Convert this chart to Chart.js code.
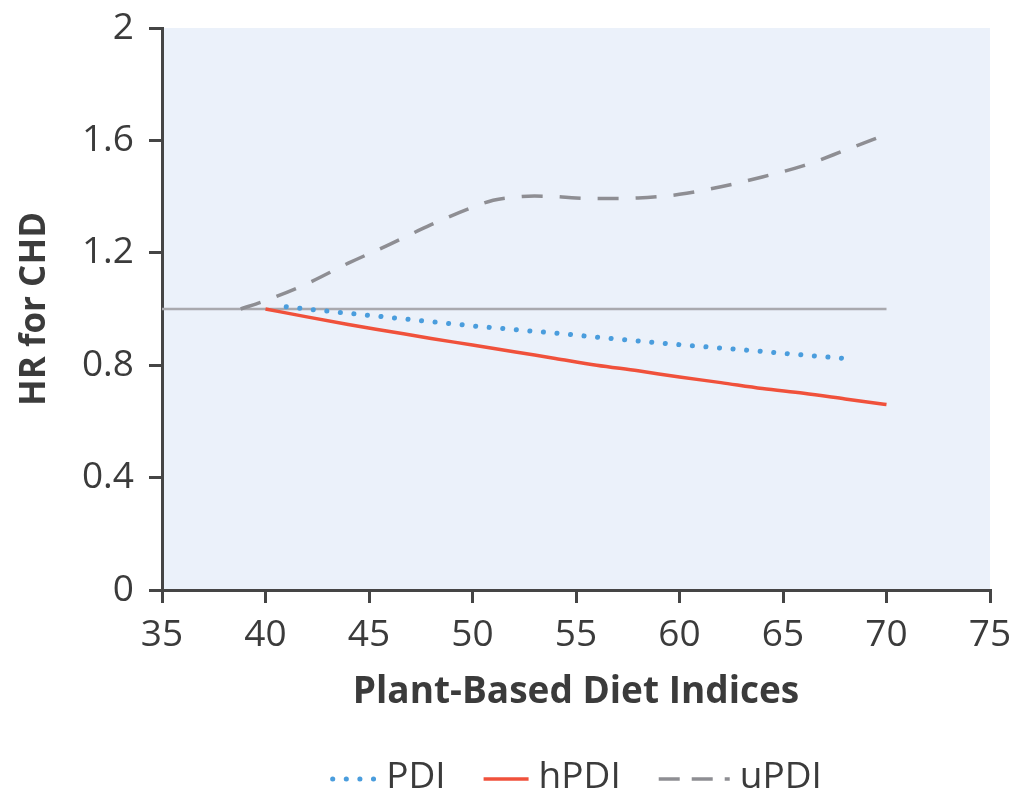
<!DOCTYPE html>
<html>
<head>
<meta charset="utf-8">
<script src="https://cdn.jsdelivr.net/npm/chart.js@4.4.1/dist/chart.umd.min.js"></script>
<style>
  html, body { margin: 0; padding: 0; background: #fff; }
  #wrap { width: 1018px; height: 799px; }
</style>
</head>
<body>
<div id="wrap"><canvas id="grafica" width="1018" height="799"></canvas></div>
<script>
// tick labels
const xTicks = [35, 40, 45, 50, 55, 60, 65, 70, 75];
const yTickLabels = ['0', '0.4', '0.8', '1.2', '1.6', '2'];

// series (x = index score, y = HR)
const pdiX = [41, 42, 44, 46, 48, 50, 52, 54, 56, 58, 60, 62, 64, 66, 68];
const pdiY = [1.008, 1.0, 0.985, 0.97, 0.955, 0.94, 0.927, 0.914, 0.9, 0.886, 0.873, 0.861, 0.849, 0.836, 0.824];

const hpdiX = [40, 42, 44, 46, 48, 50, 52, 54, 56, 58, 60, 62, 64, 66, 68, 70];
const hpdiY = [1.0, 0.972, 0.945, 0.92, 0.895, 0.872, 0.848, 0.824, 0.8, 0.78, 0.758, 0.738, 0.717, 0.7, 0.68, 0.66];

const updiX = [38.8, 40, 42, 44, 46, 48, 50, 51, 52, 53, 54, 55, 56, 57, 58, 59, 60, 62, 64, 66, 68, 70];
const updiY = [1.0, 1.03, 1.09, 1.163, 1.23, 1.3, 1.362, 1.387, 1.398, 1.402, 1.4, 1.395, 1.393, 1.393, 1.395, 1.4, 1.408, 1.435, 1.47, 1.51, 1.565, 1.622];

const refX = [35, 70];
const refY = [1, 1];

const seriesNames = ['PDI', 'hPDI', 'uPDI'];

const toPoints = (xs, ys) => xs.map((x, i) => ({ x, y: ys[i] }));

const TXT = '#3b3b3b';
const AXIS = '#454545';

// fondo del area de la grafica
const fondoPlugin = {
  id: 'fondo',
  beforeDraw(chart) {
    const { ctx, chartArea: a } = chart;
    ctx.save();
    ctx.fillStyle = '#ebf1fa';
    ctx.fillRect(a.left, a.top, a.right - a.left, a.bottom - a.top);
    ctx.restore();
  }
};

// leyenda dibujada a mano (muestras de linea punteada / discontinua)
const leyendaPlugin = {
  id: 'leyenda',
  afterDraw(chart) {
    const { ctx, chartArea: a } = chart;
    const items = chart.data.datasets.filter(d => seriesNames.includes(d.label));
    ctx.save();
    ctx.font = '37px "Open Sans"';
    ctx.textBaseline = 'middle';
    const gap = 10, between = 38;
    const widths = items.map(d => d.legendW + gap + ctx.measureText(d.label).width);
    const total = widths.reduce((s, w) => s + w, 0) + between * (items.length - 1);
    let x = (a.left + a.right) / 2 - total / 2;
    const yLine = 779, yText = 777;
    items.forEach((d, i) => {
      ctx.beginPath();
      ctx.strokeStyle = d.borderColor;
      ctx.lineWidth = d.borderWidth;
      ctx.lineCap = d.borderCapStyle || 'butt';
      ctx.setLineDash(d.legendDash || d.borderDash || []);
      const off = d.borderCapStyle === 'round' ? d.borderWidth / 2 : 0;
      ctx.moveTo(x + off, yLine);
      ctx.lineTo(x + d.legendW - off, yLine);
      ctx.stroke();
      ctx.setLineDash([]);
      ctx.fillStyle = TXT;
      ctx.fillText(d.label, x + d.legendW + gap, yText);
      x += widths[i] + between;
    });
    ctx.restore();
  }
};

const ctx = document.getElementById('grafica').getContext('2d');

new Chart(ctx, {
  type: 'line',
  data: {
    datasets: [
      {
        label: 'PDI',
        data: toPoints(pdiX, pdiY),
        borderColor: '#4a9ddd',
        borderWidth: 5,
        borderCapStyle: 'round',
        borderDash: [0.1, 13.5],
        legendW: 46,
        pointRadius: 0,
        tension: 0.4,
        cubicInterpolationMode: 'monotone'
      },
      {
        label: 'hPDI',
        data: toPoints(hpdiX, hpdiY),
        borderColor: '#f0513b',
        borderWidth: 3.5,
        legendW: 45,
        pointRadius: 0,
        tension: 0.4,
        cubicInterpolationMode: 'monotone'
      },
      {
        label: 'uPDI',
        data: toPoints(updiX, updiY),
        borderColor: '#8e8e93',
        borderWidth: 3.5,
        borderDash: [21, 17],
        legendDash: [21, 12],
        legendW: 71,
        pointRadius: 0,
        tension: 0.4,
        cubicInterpolationMode: 'monotone'
      },
      {
        label: 'ref',
        data: toPoints(refX, refY),
        borderColor: '#a9a9ae',
        borderWidth: 2.5,
        pointRadius: 0
      }
    ]
  },
  options: {
    responsive: false,
    animation: false,
    events: [],
    layout: { padding: { top: 28, right: 28, left: 0, bottom: 0 } },
    plugins: {
      legend: { display: false },
      tooltip: { enabled: false }
    },
    scales: {
      x: {
        type: 'linear',
        min: xTicks[0],
        max: xTicks[xTicks.length - 1],
        afterBuildTicks: s => { s.ticks = xTicks.map(v => ({ value: v })); },
        afterFit: s => { s.height = 209; s.paddingLeft = 0; s.paddingRight = 0; },
        ticks: {
          color: TXT,
          font: { family: 'Open Sans', size: 37 },
          padding: 10,
          maxRotation: 0
        },
        grid: { drawOnChartArea: false, drawTicks: true, tickLength: 13, color: AXIS, lineWidth: 3 },
        border: { color: AXIS, width: 3 },
        title: {
          display: true,
          text: 'Plant-Based Diet Indices',
          color: TXT,
          font: { family: 'Open Sans', size: 37, weight: 'bold' },
          padding: { top: 0, bottom: 84 }
        }
      },
      y: {
        min: 0,
        max: 2,
        afterBuildTicks: s => { s.ticks = yTickLabels.map(t => ({ value: parseFloat(t) })); },
        afterFit: s => { s.width = 162; s.paddingTop = 0; s.paddingBottom = 0; },
        ticks: {
          color: TXT,
          font: { family: 'Open Sans', size: 37 },
          padding: 15,
          callback: (v, i) => yTickLabels[i]
        },
        grid: { drawOnChartArea: false, drawTicks: true, tickLength: 13, color: AXIS, lineWidth: 3 },
        border: { color: AXIS, width: 3 },
        title: {
          display: true,
          text: 'HR for CHD',
          color: TXT,
          font: { family: 'Open Sans', size: 35, weight: 'bold' },
          padding: { top: 14, bottom: 0 }
        }
      }
    }
  },
  plugins: [fondoPlugin, leyendaPlugin]
});
</script>
</body>
</html>
